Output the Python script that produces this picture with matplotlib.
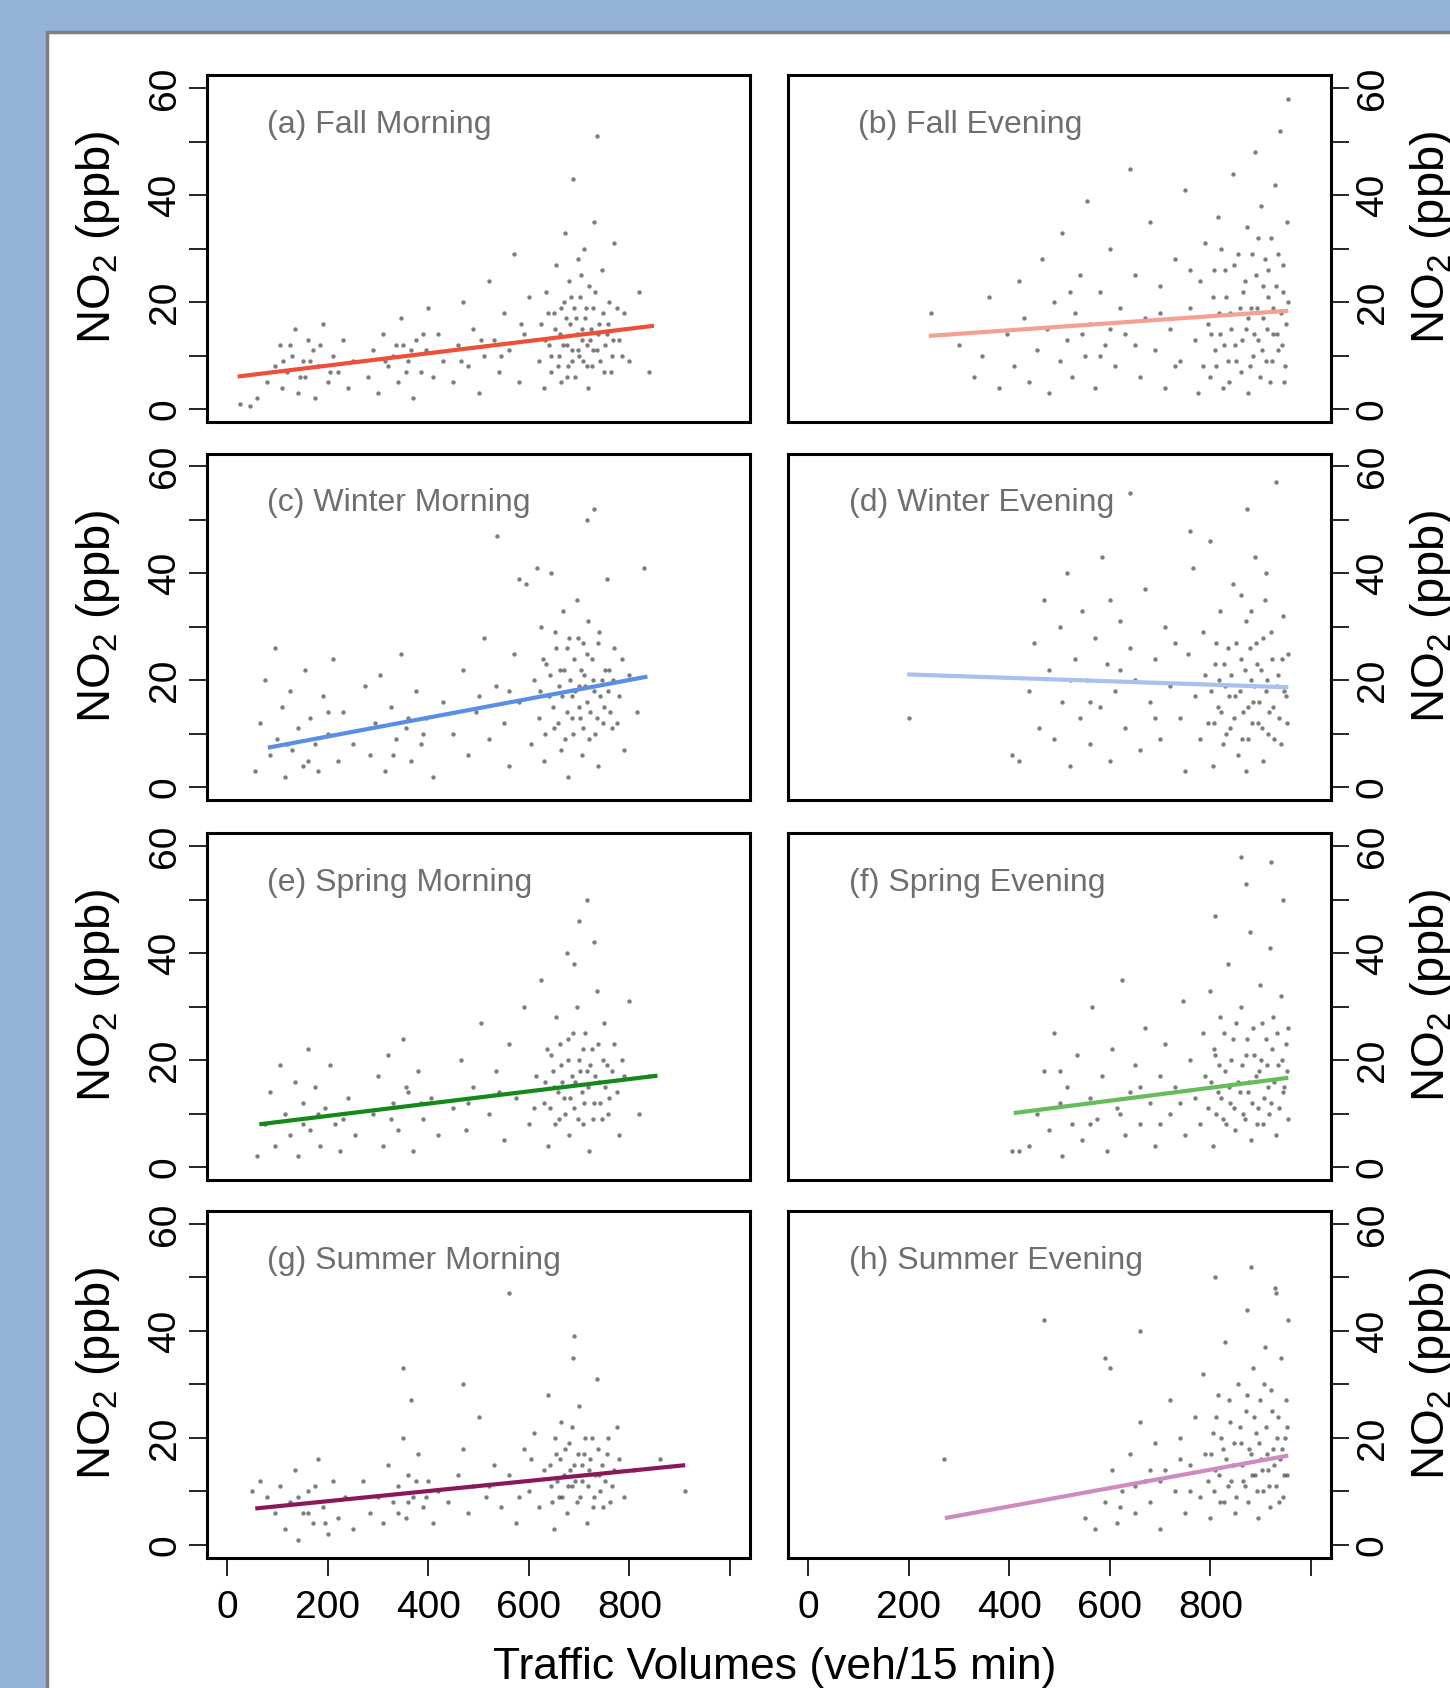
import matplotlib
matplotlib.use('Agg')
import matplotlib.pyplot as plt
from matplotlib.patches import Rectangle

plt.rcParams['font.family'] = ['Liberation Sans', 'DejaVu Sans']
plt.rcParams['mathtext.default'] = 'regular'

titles = ['(a) Fall Morning', '(b) Fall Evening', '(c) Winter Morning', '(d) Winter Evening',
          '(e) Spring Morning', '(f) Spring Evening', '(g) Summer Morning', '(h) Summer Evening']
line_colors = ['#ee4f36', '#f4a092', '#5a8de6', '#a7c1f0', '#14881a', '#66bb5c', '#8b1658', '#cf8ac0']

# regression lines (start / end)
fit_x0 = [21, 240, 81, 197, 64, 409, 56, 272]
fit_x1 = [849, 955, 836, 955, 856, 955, 911, 955]
fit_y0 = [6.1, 13.7, 7.4, 21.1, 8.0, 10.1, 6.8, 5.0]
fit_y1 = [15.6, 18.4, 20.7, 18.7, 17.1, 16.7, 14.9, 16.7]

x_ticks = [0, 200, 400, 600, 800, 1000]
x_tick_labels = ['0', '200', '400', '600', '800', '']
y_ticks = [0, 10, 20, 30, 40, 50, 60]
y_tick_labels = ['0', '', '20', '', '40', '', '60']

# scatter points (traffic volume, NO2)
fall_morning = [(25,1),(45,0.5),(60,2),(80,5),(95,8),(105,12),(110,4),(120,7),(130,10),(135,15),(140,3),
    (150,9),(155,6),(160,13),(170,11),(175,2),(180,8),(190,16),(200,5),(210,10),(220,7),(230,13),(240,4),
    (250,9),(280,6),(290,11),(300,3),(310,14),(320,8),(330,10),(340,5),(345,17),(350,12),(360,9),(370,2),
    (375,13),(385,7),(395,11),(400,19),(410,6),(420,14),(430,9),(450,5),(460,12),(470,20),(480,8),(490,15),
    (500,3),(510,10),(520,24),(530,13),(540,7),(550,18),(560,11),(570,29),(580,5),(590,14),(600,21),
    (620,9),(625,16),(630,4),(635,22),(640,12),(645,7),(650,18),(655,27),(660,10),(662,14),(665,5),(670,20),
    (672,33),(675,12),(678,8),(680,24),(682,16),(685,11),(688,43),(690,19),(692,6),(695,14),(698,28),
    (700,10),(702,21),(705,15),(708,9),(710,30),(712,17),(715,12),(718,4),(720,23),(722,13),(725,8),
    (728,19),(730,35),(735,11),(740,16),(745,26),(750,7),(755,14),(760,20),(765,10),(770,31),(780,13),
    (790,18),(800,9),(820,22),(840,7),(735,51)]
fall_morning_core = [(632,13),(638,18),(644,10),(652,15),(658,8),(664,19),(668,12),(674,17),(676,6),(684,21),
    (686,9),(694,17),(697,11),(704,25),(706,13),(714,19),(716,8),(724,15),(727,11),(732,22),(738,14),
    (742,9),(748,18),(752,12),(758,16),(763,7),(768,13),(775,19),(785,10),(112,9),(125,12),(145,6),
    (165,9),(185,12),(205,7),(315,9),(335,12),(355,7),(365,11),(390,14),(465,9),(505,13),(545,10),(585,16)]

fall_evening = [(245,18),(300,12),(330,6),(345,10),(360,21),(380,4),(395,14),(410,8),(420,24),(430,17),
    (440,5),(455,11),(465,28),(475,15),(480,3),(490,20),(500,9),(505,33),(515,13),(525,6),(530,18),(540,25),
    (550,10),(555,39),(560,16),(570,4),(580,22),(590,12),(600,30),(610,8),(620,19),(630,14),(640,45),
    (650,25),(660,6),(670,17),(680,35),(690,11),(700,23),(710,4),(720,15),(730,28),(740,9),(750,41),
    (760,19),(770,13),(775,3),(780,24),(785,8),(790,31),(795,16),(800,6),(805,21),(810,11),(815,36),
    (820,14),(825,4),(830,26),(835,9),(840,18),(845,44),(850,12),(855,29),(860,7),(865,22),(870,15),
    (872,34),(875,3),(880,19),(885,10),(888,48),(890,25),(895,13),(898,6),(900,38),(905,17),(908,28),
    (910,9),(915,21),(918,5),(920,32),(925,14),(928,42),(930,23),(935,11),(938,52),(940,18),(945,27),
    (948,8),(950,16),(952,35),(955,58)]
fall_evening_core = [(802,14),(808,26),(812,8),(818,18),(822,30),(828,12),(832,21),(838,5),(842,15),(848,27),
    (852,9),(858,19),(862,13),(868,24),(874,17),(878,8),(882,29),(886,14),(892,19),(894,32),(902,11),
    (904,23),(912,15),(914,26),(922,9),(924,19),(932,14),(934,29),(942,12),(944,22),(946,5),(954,20),
    (600,15),(650,12),(700,18),(730,8),(760,26),(580,10),(520,22),(545,14)]

winter_morning = [(55,3),(65,12),(75,20),(85,6),(95,26),(100,9),(110,15),(115,2),(125,18),(130,7),(140,11),
    (150,4),(155,22),(165,13),(175,8),(180,3),(190,17),(200,10),(210,24),(220,5),(230,14),(250,8),(275,19),
    (285,6),(295,12),(305,21),(315,3),(325,15),(335,9),(345,25),(355,11),(365,5),(375,18),(385,8),(395,13),
    (410,2),(430,16),(450,10),(470,22),(480,6),(495,14),(510,28),(520,9),(535,19),(550,12),(560,4),(570,25),
    (580,16),(595,38),(605,8),(610,20),(620,13),(625,30),(630,5),(635,23),(640,17),(645,40),(650,11),
    (655,26),(660,19),(665,7),(668,33),(670,22),(675,14),(678,2),(680,28),(685,17),(688,10),(690,24),
    (695,35),(700,19),(702,13),(705,6),(708,27),(710,21),(715,16),(718,31),(720,9),(725,24),(730,18),
    (735,13),(738,4),(740,29),(745,20),(750,15),(755,39),(760,22),(765,11),(770,26),(780,17),(790,7),
    (800,21),(815,14),(830,41),(730,52),(715,50),(537,47),(616,41),(580,39)]
winter_morning_core = [(622,18),(628,24),(633,10),(642,21),(648,15),(652,29),(658,12),(663,22),(667,17),
    (672,9),(676,26),(682,20),(686,13),(692,18),(697,28),(699,15),(704,22),(707,11),(712,19),(716,25),
    (722,14),(727,20),(732,10),(737,27),(742,17),(747,12),(752,22),(758,18),(762,14),(768,20),(775,12),
    (785,24),(120,8),(160,5),(200,14),(330,6),(360,13),(390,10),(500,17),(560,18)]

winter_evening = [(200,13),(405,6),(420,5),(440,18),(450,27),(460,11),(470,35),(480,22),(490,9),(500,30),
    (505,16),(515,40),(520,4),(530,24),(540,13),(545,33),(555,20),(560,8),(570,28),(580,15),(585,43),
    (595,23),(600,5),(610,18),(620,31),(630,11),(640,26),(650,20),(660,7),(670,37),(680,16),(690,24),
    (700,9),(710,30),(720,19),(740,13),(750,3),(755,25),(765,41),(770,17),(780,9),(785,29),(790,21),
    (795,12),(800,46),(805,4),(810,23),(815,15),(820,33),(825,8),(830,19),(835,26),(840,11),(845,38),
    (850,17),(855,6),(860,24),(865,14),(870,31),(872,52),(875,9),(880,20),(885,16),(888,43),(890,27),
    (895,12),(900,22),(905,5),(908,35),(910,18),(915,10),(920,29),(925,15),(930,57),(935,21),(940,8),
    (945,32),(950,17),(955,25),(870,3),(760,48),(640,55)]
winter_evening_core = [(802,18),(807,12),(812,27),(818,20),(822,14),(827,23),(832,10),(838,17),(842,21),
    (848,13),(852,27),(858,18),(862,9),(868,22),(874,15),(878,26),(882,12),(887,19),(892,23),(897,16),
    (902,11),(904,28),(912,20),(917,14),(922,24),(927,9),(932,19),(937,13),(942,24),(947,18),(952,12),
    (880,33),(860,36),(910,40),(560,16),(620,22),(690,13),(730,27),(600,35),(520,20)]

spring_morning = [(60,2),(75,8),(85,14),(95,4),(105,19),(115,10),(125,6),(135,16),(140,2),(150,12),(160,22),
    (165,7),(175,15),(185,4),(195,11),(205,19),(215,8),(225,3),(240,13),(255,6),(290,10),(300,17),(310,4),
    (320,21),(330,12),(340,7),(350,24),(360,14),(370,3),(380,18),(390,9),(405,13),(420,6),(450,11),(465,20),
    (475,7),(490,15),(505,27),(520,10),(535,18),(550,5),(560,23),(575,13),(590,30),(600,8),(615,17),
    (625,35),(630,12),(638,4),(645,21),(650,15),(655,28),(660,9),(665,19),(670,13),(675,40),(678,24),
    (680,6),(685,17),(690,11),(695,30),(700,20),(705,14),(708,8),(712,25),(715,18),(720,3),(725,22),
    (730,12),(735,33),(740,16),(745,9),(750,27),(755,19),(760,13),(770,23),(780,6),(790,17),(800,31),
    (820,10),(840,17),(700,46),(715,50),(690,38),(730,42)]
spring_morning_core = [(632,16),(636,22),(642,11),(648,18),(652,8),(658,14),(662,23),(667,16),(672,10),
    (677,20),(682,13),(687,25),(692,16),(697,9),(702,18),(707,22),(710,12),(717,15),(722,19),(727,9),
    (732,17),(737,23),(742,12),(748,20),(752,15),(758,10),(765,18),(775,14),(785,20),(150,8),(180,10),
    (230,9),(325,9),(355,15),(385,12),(480,12),(540,14),(610,11)]

spring_evening = [(405,3),(420,3),(440,4),(455,10),(470,18),(480,7),(490,25),(500,12),(505,2),(515,15),
    (525,8),(535,21),(545,5),(560,13),(565,30),(575,9),(585,17),(595,3),(605,22),(615,11),(625,35),(630,6),
    (640,14),(650,19),(660,8),(670,26),(680,12),(690,4),(700,17),(710,23),(720,10),(730,15),(745,31),
    (750,6),(760,20),(770,13),(780,8),(785,25),(790,17),(795,11),(800,33),(805,4),(810,21),(815,14),
    (820,28),(825,9),(830,18),(835,38),(840,12),(845,24),(850,7),(855,16),(860,30),(865,10),(870,21),
    (875,14),(878,44),(880,5),(885,26),(890,17),(895,11),(898,34),(900,20),(905,8),(910,24),(915,15),
    (918,41),(920,12),(925,28),(930,6),(935,19),(940,32),(945,14),(950,23),(955,9),(860,58),(920,57),
    (870,53),(945,50),(810,47)]
spring_evening_core = [(802,16),(807,22),(812,10),(818,19),(822,13),(827,25),(832,8),(838,15),(842,20),
    (848,11),(852,27),(858,14),(862,19),(868,9),(872,24),(877,16),(882,12),(887,21),(892,8),(897,18),
    (902,27),(907,13),(912,19),(917,10),(922,22),(927,16),(932,25),(937,11),(942,20),(947,15),(952,18),
    (955,26),(620,10),(660,15),(700,8),(740,12),(560,8),(500,18)]

summer_morning = [(50,10),(65,12),(80,9),(95,6),(105,11),(115,3),(125,8),(135,14),(140,1),(150,6),(160,10),
    (170,4),(180,16),(190,7),(200,2),(210,12),(220,5),(235,9),(250,3),(270,12),(285,6),(300,9),(310,4),
    (320,15),(330,8),(340,11),(350,20),(355,5),(360,13),(365,27),(370,9),(380,17),(390,7),(400,12),(410,4),
    (420,10),(440,8),(460,13),(470,18),(480,6),(490,11),(500,24),(515,9),(530,15),(545,7),(560,13),(575,4),
    (590,18),(600,10),(610,21),(620,7),(630,14),(638,28),(645,11),(650,3),(655,17),(660,9),(665,23),
    (670,13),(675,6),(680,19),(685,11),(688,35),(690,15),(695,8),(700,26),(705,12),(710,17),(715,4),
    (720,14),(725,20),(730,9),(735,31),(740,13),(748,7),(755,17),(765,11),(775,22),(790,9),(810,14),
    (860,16),(910,10),(560,47),(690,39),(350,33),(470,30)]
summer_morning_core = [(642,15),(646,8),(652,20),(657,12),(662,16),(667,9),(672,18),(677,11),(682,14),
    (686,22),(692,12),(697,17),(702,9),(706,15),(712,20),(717,11),(722,16),(727,7),(732,13),(737,18),
    (742,10),(746,15),(752,12),(758,20),(762,8),(770,14),(780,16),(140,9),(160,6),(175,11),(195,4),
    (340,6),(360,8),(375,12),(395,9),(520,11),(580,9),(605,16)]

summer_evening = [(270,16),(470,42),(550,5),(570,3),(590,8),(605,14),(615,4),(625,10),(640,17),(650,6),
    (660,23),(670,12),(680,8),(690,19),(700,3),(710,14),(720,27),(730,10),(740,20),(750,6),(760,15),
    (770,24),(780,9),(785,32),(790,17),(795,12),(800,5),(805,21),(810,14),(815,28),(820,8),(825,18),
    (830,38),(835,11),(840,23),(845,15),(850,6),(855,30),(860,19),(865,12),(870,25),(872,44),(875,8),
    (880,17),(885,33),(888,13),(890,21),(895,5),(898,27),(900,16),(905,10),(908,37),(910,22),(915,14),
    (918,7),(920,29),(925,18),(928,48),(930,11),(935,24),(938,16),(940,35),(945,9),(948,20),(950,27),
    (952,13),(955,42),(590,35),(600,33),(660,40),(810,50),(880,52),(930,47)]
summer_evening_core = [(802,17),(807,10),(812,24),(818,13),(822,20),(827,8),(832,16),(838,27),(842,12),
    (848,19),(852,9),(858,22),(862,15),(868,11),(872,28),(877,18),(882,13),(887,24),(892,10),(897,19),
    (902,14),(907,30),(912,17),(917,11),(922,25),(927,15),(932,20),(937,8),(942,18),(947,13),(952,22),
    (700,12),(740,16),(760,10),(680,14),(620,7),(650,11)]

panels = [fall_morning + fall_morning_core, fall_evening + fall_evening_core,
          winter_morning + winter_morning_core, winter_evening + winter_evening_core,
          spring_morning + spring_morning_core, spring_evening + spring_evening_core,
          summer_morning + summer_morning_core, summer_evening + summer_evening_core]

fig = plt.figure(figsize=(14.5, 16.88), dpi=100, facecolor='#95b3d7')
fig.add_artist(Rectangle((47/1450, -0.05), 1.2, 1 - 32/1688 + 0.05, transform=fig.transFigure,
                         facecolor='white', edgecolor='#7f7f7f', linewidth=2.5, zorder=0))

col_left = [207/1450, 788/1450]
ax_w = 0.3745
row_bottom = [0.750, 0.526, 0.301, 0.0772]
ax_h = 0.2053
title_x = [0.11, 0.129, 0.11, 0.112, 0.11, 0.113, 0.11, 0.112]

for i in range(8):
    row = i // 2
    col = i % 2
    ax = fig.add_axes([col_left[col], row_bottom[row], ax_w, ax_h])
    xs = [p[0] for p in panels[i]]
    ys = [p[1] for p in panels[i]]
    ax.scatter(xs, ys, s=10, color='#262626', alpha=0.6, linewidths=0)
    ax.plot([fit_x0[i], fit_x1[i]], [fit_y0[i], fit_y1[i]], color=line_colors[i], lw=3, solid_capstyle='butt')
    ax.set_xlim(-40, 1040)
    ax.set_ylim(-2.4, 62.4)
    for s in ax.spines.values():
        s.set_linewidth(2.2)
    ax.text(title_x[i], 0.857, titles[i], transform=ax.transAxes, fontsize=23, color='#6e6e6e',
            ha='left', va='center')

    ax.set_yticks(y_ticks)
    ax.set_yticklabels(y_tick_labels, rotation=90, va='center')
    if col == 1:
        ax.yaxis.tick_right()
    ax.tick_params(axis='y', direction='out', length=13, width=1.2, labelsize=28, pad=4)

    if row == 3:
        ax.set_xticks(x_ticks)
        ax.set_xticklabels(x_tick_labels)
        ax.tick_params(axis='x', direction='out', length=13, width=1.2, labelsize=28, pad=10)
    else:
        ax.set_xticks([])

    yc = row_bottom[row] + ax_h / 2 + 0.0065
    if col == 0:
        fig.text(98/1450, yc, 'NO$_2$ (ppb)', rotation=90, fontsize=34, ha='center', va='center')
    else:
        fig.text(1432/1450, yc, 'NO$_2$ (ppb)', rotation=90, fontsize=34, ha='center', va='center')

fig.text(775/1450, 9/1688, 'Traffic Volumes (veh/15 min)', fontsize=32, ha='center', va='baseline')

fig.savefig('out.png', dpi=100, facecolor=fig.get_facecolor())
